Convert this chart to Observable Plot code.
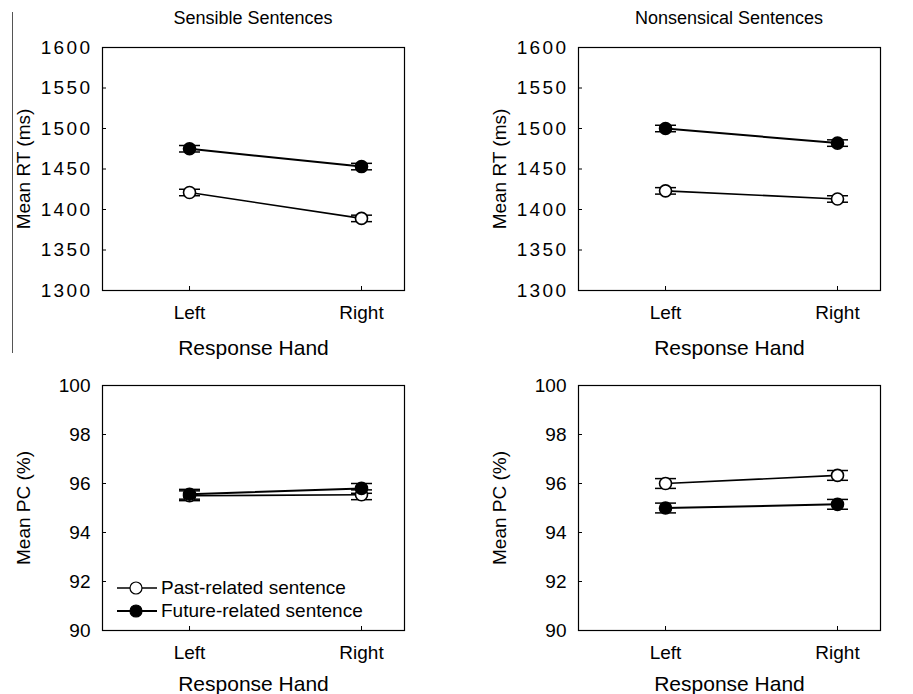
<!DOCTYPE html>
<html><head><meta charset="utf-8">
<script src="https://cdn.jsdelivr.net/npm/d3@7"></script>
<script src="https://cdn.jsdelivr.net/npm/@observablehq/plot@0.6"></script>
<style>
body{margin:0;background:#fff;font-family:"Liberation Sans",Arial,sans-serif;}
#fig{position:relative;width:913px;height:694px;overflow:hidden;background:#fff;}
.panel{position:absolute;}
.wide g[aria-label="y-axis tick label"]{letter-spacing:2.4px;}
.panel g[aria-label="x-axis label"]{font-size:21px;}
.title{position:absolute;font-size:18px;line-height:20px;text-align:center;width:302px;color:#000;}
.legend{position:absolute;left:116px;top:576px;font-size:19px;color:#000;}
.legend .row{display:flex;align-items:center;height:23px;}
.legend svg{margin-right:3px;}
.artifact{position:absolute;left:12px;top:12px;width:1px;height:341px;background:#555;}
</style></head><body><div id="fig"></div>
<script>
const hands = ["Left", "Right"];
const seriesNames = ["Past-related sentence", "Future-related sentence"];
const titles = ["Sensible Sentences", "Nonsensical Sentences"];
const rtTicks = [1300, 1350, 1400, 1450, 1500, 1550, 1600];
const pcTicks = [90, 92, 94, 96, 98, 100];

const rtSensiblePast = [1421, 1389];
const rtSensibleFuture = [1475, 1453];
const rtNonsensPast = [1423, 1413];
const rtNonsensFuture = [1500, 1482];
const rtErr = [4, 4];

const pcSensiblePast = [95.5, 95.54];
const pcSensibleFuture = [95.56, 95.8];
const pcNonsensPast = [96.0, 96.33];
const pcNonsensFuture = [95.0, 95.15];
const pcErr = [0.2, 0.2];

function rows(past, future, err) {
  const out = [];
  [past, future].forEach((vals, s) => vals.forEach((v, h) => out.push({h, v, e: err[h], s})));
  return out;
}

const capSymbol = {draw(ctx) { ctx.moveTo(-10.5, 0); ctx.lineTo(10.5, 0); }};

function panel({data, yDomain, yTicks, yLabel, topPx, left, height, marginTop, marginBottom, xLabelOffset, wide}) {
  const chart = Plot.plot({
    width: 437, height, marginLeft: 102, marginRight: 33, marginTop, marginBottom,
    style: {fontFamily: "Liberation Sans, Arial, sans-serif", fontSize: "19px", color: "black", background: "transparent", overflow: "visible"},
    x: {domain: [-0.506, 1.25], axis: null},
    y: {domain: yDomain, axis: null},
    marks: [
      Plot.axisY({ticks: yTicks, tickFormat: d => String(d), tickSize: -4, tickPadding: wide ? 14 : 16, label: yLabel, labelAnchor: "center", labelOffset: 86, labelArrow: "none"}),
      Plot.axisX({ticks: [0, 1], tickFormat: i => hands[i], tickSize: -4, tickPadding: 19, label: "Response Hand", labelAnchor: "center", labelOffset: xLabelOffset, labelArrow: "none"}),
      Plot.frame({stroke: "black", strokeWidth: 1.2}),
      Plot.line(data, {x: "h", y: "v", z: "s", stroke: "black", strokeWidth: d => d.s === 0 ? 1.6 : 2}),
      Plot.ruleX(data, {x: "h", y1: d => d.v - d.e, y2: d => d.v + d.e, stroke: "black", strokeWidth: 1.5}),
      Plot.dot(data, {x: "h", y: d => d.v - d.e, symbol: capSymbol, fill: "none", stroke: "black", strokeWidth: 1.5}),
      Plot.dot(data, {x: "h", y: d => d.v + d.e, symbol: capSymbol, fill: "none", stroke: "black", strokeWidth: 1.5}),
      Plot.dot(data, {x: "h", y: "v", r: 6, fill: d => d.s === 0 ? "white" : "black", stroke: "black", strokeWidth: 1.6})
    ]
  });
  chart.classList.add("panel");
  if (wide) chart.classList.add("wide");
  chart.style.left = left + "px";
  chart.style.top = topPx + "px";
  return chart;
}

const fig = document.getElementById("fig");
const art = document.createElement("div"); art.className = "artifact"; fig.appendChild(art);

const rowTop = {yDomain: [1300, 1600], yTicks: rtTicks, yLabel: "Mean RT (ms)", topPx: 0, height: 360, marginTop: 47, marginBottom: 70, xLabelOffset: 64, wide: true};
const rowBot = {yDomain: [90, 100], yTicks: pcTicks, yLabel: "Mean PC (%)", topPx: 350, height: 344, marginTop: 35, marginBottom: 64, xLabelOffset: 60, wide: false};

fig.appendChild(panel({...rowTop, left: 0, data: rows(rtSensiblePast, rtSensibleFuture, rtErr)}));
fig.appendChild(panel({...rowTop, left: 476, data: rows(rtNonsensPast, rtNonsensFuture, rtErr)}));
fig.appendChild(panel({...rowBot, left: 0, data: rows(pcSensiblePast, pcSensibleFuture, pcErr)}));
fig.appendChild(panel({...rowBot, left: 476, data: rows(pcNonsensPast, pcNonsensFuture, pcErr)}));

titles.forEach((t, i) => {
  const d = document.createElement("div");
  d.className = "title"; d.textContent = t;
  d.style.left = (102 + i * 476) + "px"; d.style.top = "8px";
  fig.appendChild(d);
});

const leg = document.createElement("div"); leg.className = "legend";
seriesNames.forEach((name, s) => {
  const row = document.createElement("div"); row.className = "row";
  const ns = "http://www.w3.org/2000/svg";
  const svg = document.createElementNS(ns, "svg");
  svg.setAttribute("width", 42); svg.setAttribute("height", 16);
  const ln = document.createElementNS(ns, "line");
  ln.setAttribute("x1", 1); ln.setAttribute("x2", 41); ln.setAttribute("y1", 8); ln.setAttribute("y2", 8);
  ln.setAttribute("stroke", "black"); ln.setAttribute("stroke-width", s === 0 ? 1.3 : 2.2);
  const c = document.createElementNS(ns, "circle");
  c.setAttribute("cx", 20); c.setAttribute("cy", 8); c.setAttribute("r", 6);
  c.setAttribute("fill", s === 0 ? "white" : "black"); c.setAttribute("stroke", "black"); c.setAttribute("stroke-width", 1.2);
  svg.appendChild(ln); svg.appendChild(c);
  const span = document.createElement("span"); span.textContent = name;
  row.appendChild(svg); row.appendChild(span);
  leg.appendChild(row);
});
fig.appendChild(leg);
</script>
</body></html>
